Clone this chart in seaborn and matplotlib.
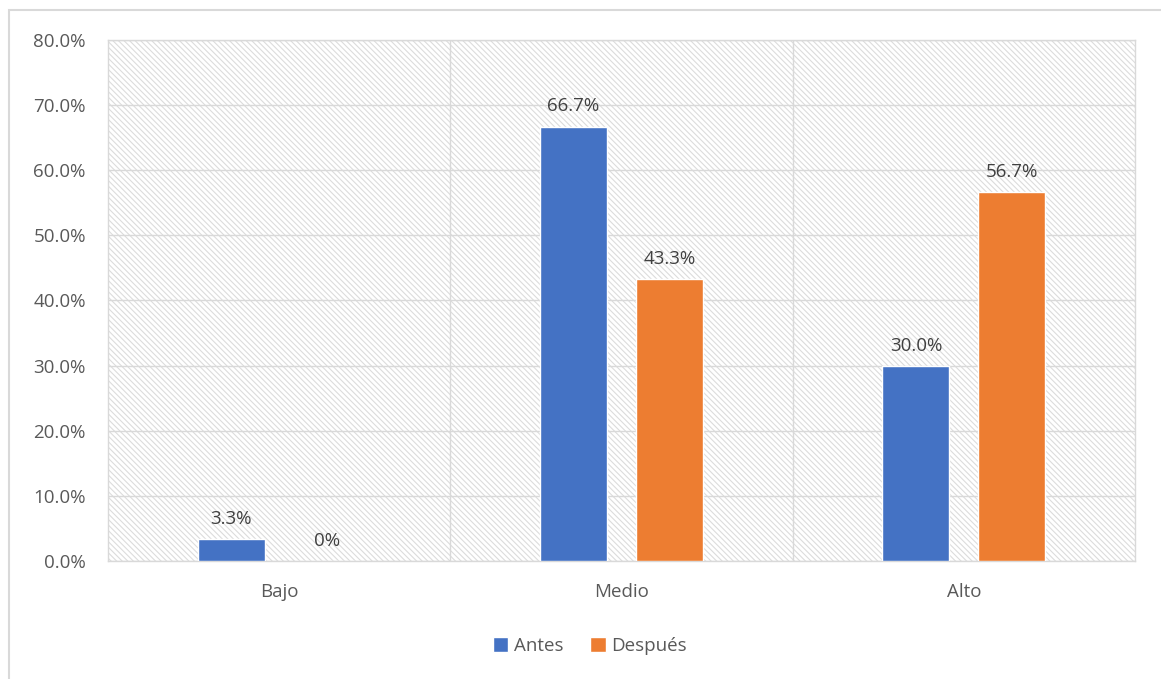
import pandas as pd
import numpy as np
import matplotlib.pyplot as plt
import matplotlib.ticker as mtick
from matplotlib.patches import Rectangle
import seaborn as sns

# datos del grafico
niveles = ['Bajo', 'Medio', 'Alto']
momentos = ['Antes', 'Después']
antes = [0.033, 0.667, 0.300]
despues = [0.0, 0.433, 0.567]
etiquetas_antes = ['3.3%', '66.7%', '30.0%']
etiquetas_despues = ['0%', '43.3%', '56.7%']
colores = ['#4472C4', '#ED7D31']

df = pd.DataFrame({
    'nivel': niveles * 2,
    'momento': [momentos[0]] * 3 + [momentos[1]] * 3,
    'porcentaje': antes + despues,
})

sns.set_style("white")
plt.rcParams['font.family'] = ['Open Sans', 'DejaVu Sans']
gris_txt = '#595959'
gris_lin = '#d9d9d9'
plt.rcParams['hatch.linewidth'] = 0.8

fig = plt.figure(figsize=(11.61, 6.79), dpi=100)
ax = fig.add_axes([0.093, 0.1738, 0.8846, 0.7673])

# fondo rayado
ax.add_patch(Rectangle((0, 0), 1, 1, transform=ax.transAxes, facecolor='white',
                       edgecolor='#dcdcdc', hatch='\\' * 6, linewidth=0, zorder=0))

sns.barplot(data=df, x='nivel', y='porcentaje', hue='momento', order=niveles,
            hue_order=momentos, palette=colores, width=0.56, gap=0.3,
            saturation=1, ax=ax, zorder=3)

for cont, labs in zip(ax.containers, [etiquetas_antes, etiquetas_despues]):
    ax.bar_label(cont, labels=labs, padding=8, fontsize=13.5, color='#404040')

ax.set_ylim(0, 0.8)
ax.set_xlim(-0.5, 2.5)
ax.yaxis.set_major_locator(mtick.MultipleLocator(0.1))
ax.yaxis.set_major_formatter(mtick.PercentFormatter(1.0, decimals=1))
ax.set_axisbelow(True)
ax.grid(axis='y', color=gris_lin, linewidth=1, zorder=1)
for xv in [0.5, 1.5]:
    ax.axvline(xv, color=gris_lin, linewidth=1, zorder=1)
for sp in ax.spines.values():
    sp.set_color(gris_lin)
    sp.set_linewidth(1)
ax.tick_params(axis='both', length=0, labelsize=13.5, colors=gris_txt)
ax.tick_params(axis='x', pad=16)
ax.tick_params(axis='y', pad=16)
ax.set_xlabel('')
ax.set_ylabel('')

handles, labels = ax.get_legend_handles_labels()
ax.get_legend().remove()
fig.legend(handles, labels, loc='center', bbox_to_anchor=(0.508, 0.049), ncol=2,
           frameon=False, fontsize=13.5, handlelength=0.85, handleheight=0.85,
           handletextpad=0.3, columnspacing=1.4, labelcolor=gris_txt)

# borde exterior del grafico
fig.patches.append(Rectangle((9 / 1161, -0.2), 1.2, 1.2 - 10 / 679, transform=fig.transFigure,
                             facecolor='none', edgecolor=gris_lin, linewidth=1.5, zorder=0))

fig.savefig('out.png', dpi=100)
